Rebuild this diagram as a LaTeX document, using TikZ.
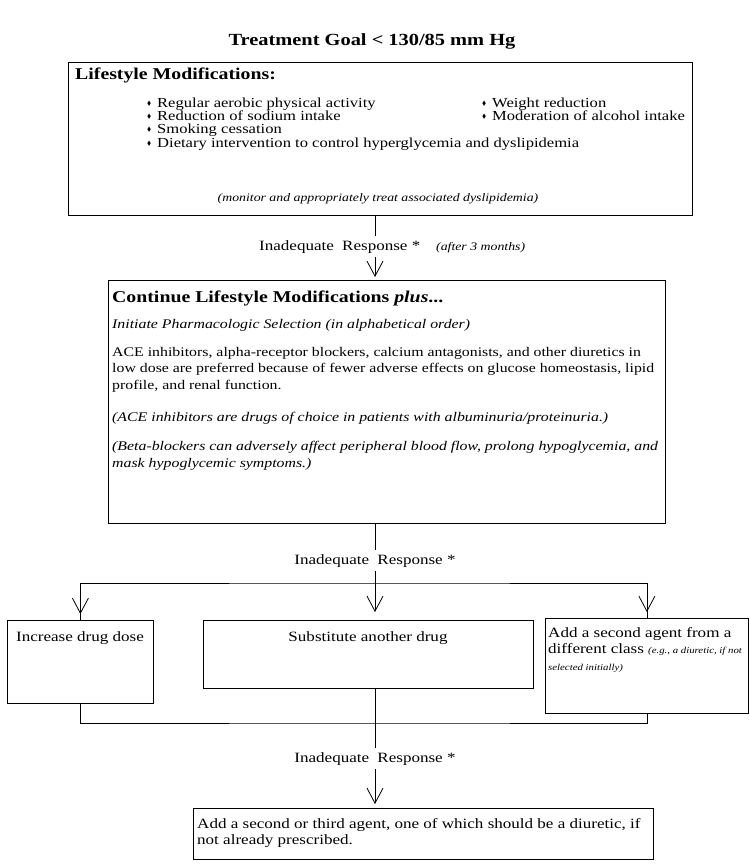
\documentclass[tikz,border=0pt]{standalone}
\usepackage{amssymb}
\usepackage{fontspec}
\setmainfont[FakeStretch=1.2]{Liberation Serif}
\usetikzlibrary{arrows.meta, positioning}
\newcommand{\bul}{\makebox[10pt][l]{\raisebox{1.8pt}{\scalebox{0.45}{$\blacklozenge$}}}}
\tikzset{
  stepbox/.style ={draw, rectangle, line width=0.8pt, inner sep=0pt, anchor=north west},
  ttl/.style     ={font=\fontsize{17}{20}\selectfont\bfseries, inner sep=0pt, anchor=base},
  hd/.style      ={font=\fontsize{16.5}{19}\selectfont\bfseries, inner sep=0pt, anchor=base west},
  txt/.style     ={font=\fontsize{14.2}{16.5}\selectfont, inner sep=0pt, anchor=base west},
  item/.style    ={font=\fontsize{13.8}{16}\selectfont, inner sep=0pt, anchor=base west},
  itxt/.style    ={font=\fontsize{13.2}{16.5}\selectfont\itshape, inner sep=0pt, anchor=base west},
  para/.style    ={font=\fontsize{13.2}{16.5}\selectfont, inner sep=0pt, anchor=north west, align=left},
  note/.style    ={font=\fontsize{11.5}{13}\selectfont\itshape, inner sep=0pt, anchor=base west},
  flow/.style    ={line width=0.8pt},
  varr/.style    ={line width=0.8pt, -{Straight Barb[length=15pt, width=16pt, line width=0.8pt]}},
}

\begin{document}
\begin{tikzpicture}[x=1pt, y=-1pt]
  \useasboundingbox (0,0) rectangle (748,868);
  \coordinate (midx) at (375,0);

  % goal
  \node[ttl] (goal) at (372,45) {Treatment Goal < 130/85 mm Hg};

  % lifestyle box
  \node[stepbox, minimum width=624pt, minimum height=153pt] (life) at (68,62) {};
  \node[hd] (lifehd) at (75,79) {Lifestyle Modifications:};
  \node[item] (lb1) at (147,107) {\bul Regular aerobic physical activity};
  \node[item] (lb2) at (147,120) {\bul Reduction of sodium intake};
  \node[item] (lb3) at (147,133) {\bul Smoking cessation};
  \node[item] (lb4) at (147,147) {\bul Dietary intervention to control hyperglycemia and dyslipidemia};
  \node[item] (lb5) at (482,107) {\bul Weight reduction};
  \node[item] (lb6) at (482,120) {\bul Moderation of alcohol intake};
  \node[note, anchor=base] (lnote) at (378,201) {(monitor and appropriately treat associated dyslipidemia)};

  \node[txt, inner ysep=4pt] (resp1) at (259,250) {Inadequate\hspace{4pt} Response *};
  \node[note] (after) at (436,250) {(after 3 months)};

  % pharmacologic box
  \node[stepbox, minimum width=557pt, minimum height=243pt] (cont) at (108,280) {};
  \node[hd] (conthd) at (112,302) {Continue Lifestyle Modifications \textit{plus}...};
  \node[itxt] (init) at (112,328) {Initiate Pharmacologic Selection (in alphabetical order)};
  \node[para] (pref) at (112,347) {ACE inhibitors, alpha-receptor blockers, calcium antagonists, and other diuretics in\\
    low dose are preferred because of fewer adverse effects on glucose homeostasis, lipid\\
    profile, and renal function.};
  \node[itxt] (acei) at (112,421) {(ACE inhibitors are drugs of choice in patients with albuminuria/proteinuria.)};
  \node[para, font=\fontsize{13.2}{16.5}\selectfont\itshape] (beta) at (112,441) {(Beta-blockers can adversely affect peripheral blood flow, prolong hypoglycemia, and\\
    mask hypoglycemic symptoms.)};

  \node[txt, anchor=base, inner ysep=4pt] (resp2) at (375,564) {Inadequate\hspace{4pt} Response *};
  \coordinate (split) at (375,583);

  % three options
  \node[stepbox, minimum width=146pt, minimum height=83pt] (dose) at (7,620) {};
  \node[txt, anchor=base] (dosetx) at (80,641) {Increase drug dose};
  \node[stepbox, minimum width=330pt, minimum height=68pt] (subst) at (203,620) {};
  \node[txt, anchor=base] (substtx) at (368,641) {Substitute another drug};
  \node[stepbox, minimum width=203pt, minimum height=95pt] (second) at (545,618) {};
  \node[para, font=\fontsize{14.2}{16.5}\selectfont] (secondtx) at (548,627) {Add a second agent from a\\
    different class {\fontsize{9}{10}\selectfont\itshape (e.g., a diuretic, if not}\\
    {\fontsize{9}{10}\selectfont\itshape selected initially)}};
  \coordinate (join) at (375,723);

  \node[txt, anchor=base, inner ysep=4pt] (resp3) at (375,762) {Inadequate\hspace{4pt} Response *};

  % last step
  \node[stepbox, minimum width=460pt, minimum height=51pt] (third) at (193,808) {};
  \node[para, font=\fontsize{14.2}{16.5}\selectfont] (thirdtx) at (197,818) {Add a second or third agent, one of which should be a diuretic, if\\
    not already prescribed.};

  % connectors
  \draw[flow] (life.south -| midx) -- (resp1.north -| midx);
  \draw[varr, shorten >=3pt] (resp1.south -| midx) -- (cont.north -| midx);
  \draw[flow] (cont.south -| midx) -- (resp2.north);
  \draw[flow] (dose.north) |- (split) -| (second.north);
  \draw[varr, shorten >=6pt] (split -| dose.north) -- (dose.north);
  \draw[varr, shorten >=8pt] (resp2.south) -- (subst.north -| midx);
  \draw[varr, shorten >=6pt] (split -| second.north) -- (second.north);
  \draw[flow] (dose.south) |- (join) -| (second.south);
  \draw[flow] (subst.south -| midx) -- (resp3.north);
  \draw[varr, shorten >=4pt] (resp3.south) -- (third.north -| midx);
\end{tikzpicture}
\end{document}
